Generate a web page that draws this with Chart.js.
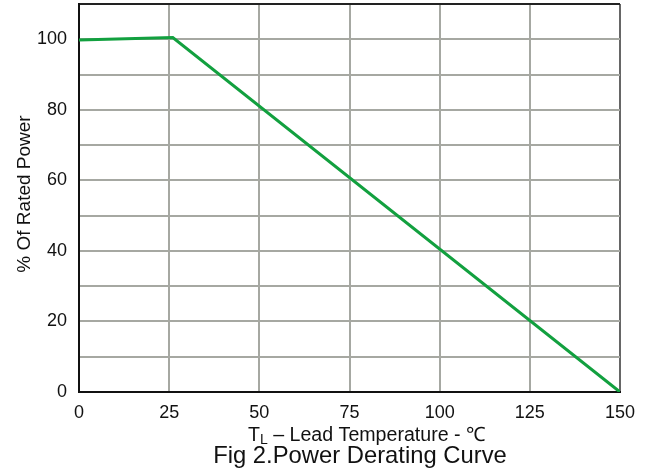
<!DOCTYPE html>
<html>
<head>
<meta charset="utf-8">
<script src="https://cdn.jsdelivr.net/npm/chart.js@4"></script>
<style>
  html, body { margin: 0; padding: 0; background: #fff; }
  #wrap { width: 654px; height: 474px; position: relative; }
</style>
</head>
<body>
<div id="wrap"><canvas id="deratingChart"></canvas></div>
<script>
// data
const leadTemp = [0, 26, 150];
const ratedPower = [99.8, 100.5, 0];
const xTicks = [0, 25, 50, 75, 100, 125, 150];
const yLabelTicks = [0, 20, 40, 60, 80, 100];

const FONT = 'Liberation Sans, Arial, sans-serif';
const GRID = '#a6a8a2';

// titles drawn by hand so the subscript L works
const titlesPlugin = {
    id: 'titles',
    afterDraw(chart) {
        const ctx = chart.ctx;
        ctx.save();
        ctx.fillStyle = '#111';
        ctx.textBaseline = 'alphabetic';

        // y title
        ctx.save();
        ctx.translate(30, 194);
        ctx.rotate(-Math.PI / 2);
        ctx.textAlign = 'center';
        ctx.font = '19px ' + FONT;
        ctx.fillText('% Of Rated Power', 0, 0);
        ctx.restore();

        // x title with subscript
        const partT = 'T';
        const partRest = ' – Lead Temperature - ℃';
        ctx.font = '19.6px ' + FONT;
        const wT = ctx.measureText(partT).width;
        const wRest = ctx.measureText(partRest).width;
        ctx.font = '14px ' + FONT;
        const wSub = ctx.measureText('L').width;
        const total = wT + wSub + wRest;
        let x = 367 - total / 2;
        const y = 441;
        ctx.textAlign = 'left';
        ctx.font = '19.6px ' + FONT;
        ctx.fillText(partT, x, y);
        x += wT;
        ctx.font = '14px ' + FONT;
        ctx.fillText('L', x, y + 3);
        x += wSub;
        ctx.font = '19.6px ' + FONT;
        ctx.fillText(partRest, x, y);

        // figure caption
        ctx.textAlign = 'center';
        ctx.font = '23.8px ' + FONT;
        ctx.fillText('Fig 2.Power Derating Curve', 360, 463);
        ctx.restore();
    }
};

const ctx = document.getElementById('deratingChart').getContext('2d');
const deratingChart = new Chart(ctx, {
    type: 'line',
    data: {
        datasets: [{
            data: leadTemp.map((t, i) => ({ x: t, y: ratedPower[i] })),
            borderColor: '#12a03f',
            borderWidth: 3,
            pointRadius: 0,
            fill: false,
            tension: 0
        }]
    },
    options: {
        responsive: true,
        maintainAspectRatio: false,
        animation: false,
        layout: { padding: { top: 4, right: 34, left: 0, bottom: 0 } },
        plugins: {
            legend: { display: false },
            tooltip: { enabled: false }
        },
        scales: {
            x: {
                type: 'linear',
                min: 0,
                max: 150,
                afterBuildTicks: (scale) => { scale.ticks = xTicks.map(v => ({ value: v })); },
                afterFit: (scale) => { scale.height = 82; },
                ticks: {
                    padding: 10,
                    color: '#111',
                    font: { family: FONT, size: 18 },
                    maxRotation: 0
                },
                grid: {
                    drawTicks: false,
                    lineWidth: 2,
                    color: (c) => c.tick && c.tick.value === 150 ? '#666' : GRID
                },
                border: { color: '#111', width: 2 }
            },
            y: {
                min: 0,
                max: 110,
                afterBuildTicks: (scale) => {
                    const t = [];
                    for (let v = 0; v <= 110; v += 10) t.push({ value: v });
                    scale.ticks = t;
                },
                afterFit: (scale) => {
                    scale.width = 79;
                    scale.paddingTop = 0;
                    scale.paddingBottom = 0;
                },
                ticks: {
                    padding: 12,
                    color: '#111',
                    font: { family: FONT, size: 18 },
                    callback: (v) => yLabelTicks.includes(v) ? String(v) : ''
                },
                grid: {
                    drawTicks: false,
                    lineWidth: 2,
                    color: (c) => c.tick && c.tick.value === 110 ? '#222' : GRID
                },
                border: { color: '#111', width: 2 }
            }
        }
    },
    plugins: [titlesPlugin]
});
</script>
</body>
</html>
